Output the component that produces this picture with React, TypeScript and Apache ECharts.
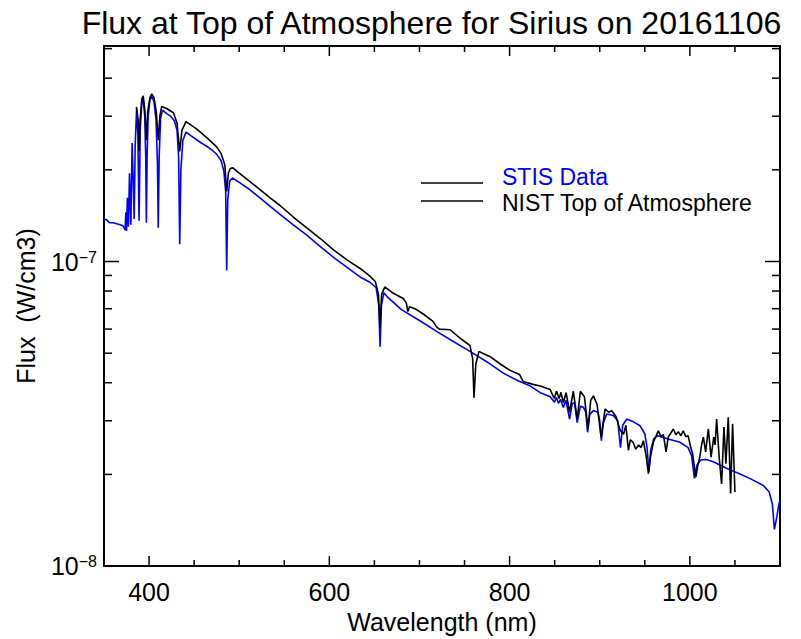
import React, { useEffect, useRef } from "react";
import * as echarts from "echarts";

// STIS measured spectrum (wavelength nm, flux W/cm3)
const stisWl = [
  350, 353, 356, 360, 364, 368, 371, 373.4, 374.2, 375.0, 375.9, 377.1, 378.3, 379.8, 381.2, 382.3, 383.5,
  384.6, 386.2, 387.6, 388.9, 390.2, 392.0, 393.3, 395.2, 396.3, 397.0, 397.8, 399.0, 401.0, 403.0, 405.5,
  407.8, 409.3, 410.2, 411.2, 412.8, 415.0, 419.5, 424.0, 428.0, 431.0, 432.8, 434.0, 435.3, 437.5, 441.0,
  447.0, 452.8, 458.0, 464.0, 470.0, 475.0, 480.0, 483.0, 485.0, 486.1, 487.3, 489.5, 492.5, 500.0, 512.0,
  525.0, 534.0, 545.0, 560.0, 575.0, 590.0, 605.0, 620.0, 634.0, 645.0, 652.0, 654.8, 656.3, 657.8, 660.5,
  664.0, 680.0, 700.0, 719.0, 738.0, 756.0, 775.0, 793.0, 810.0, 823.0, 834.0, 845.0, 849.8, 852.0, 854.3,
  856.5, 859.6, 862.5, 866.5, 869.5, 872.0, 875.0, 878.5, 882.0, 884.5, 886.5, 889.0, 893.0, 898.0, 900.0,
  901.8, 904.0, 907.8, 915.0, 920.0, 923.0, 925.5, 930.0, 938.0, 944.7, 950.0, 952.5, 954.6, 956.5, 960.0,
  964.0, 975.0, 989.0, 998.0, 1002.0, 1005.0, 1008.0, 1012.0, 1018.0, 1026.0, 1040.0, 1055.0, 1068.0,
  1081.5, 1088.0, 1091.5, 1093.8, 1096.5, 1098.5, 1100.0,
];
const stisFlux = [
  1.38e-7, 1.37e-7, 1.34e-7, 1.34e-7, 1.33e-7, 1.32e-7, 1.31e-7, 1.27e-7, 1.45e-7, 1.26e-7, 1.62e-7, 1.3e-7,
  1.95e-7, 1.32e-7, 2.45e-7, 1.9e-7, 1.38e-7, 2.4e-7, 3.18e-7, 2.6e-7, 1.36e-7, 2.7e-7, 3.35e-7, 3.45e-7,
  3.0e-7, 2.2e-7, 1.34e-7, 2.2e-7, 3.0e-7, 3.4e-7, 3.48e-7, 3.35e-7, 2.9e-7, 2.1e-7, 1.29e-7, 2.2e-7, 2.95e-7,
  3.14e-7, 3.06e-7, 3.0e-7, 2.9e-7, 2.7e-7, 2.2e-7, 1.14e-7, 2.0e-7, 2.5e-7, 2.66e-7, 2.58e-7, 2.51e-7,
  2.45e-7, 2.39e-7, 2.32e-7, 2.25e-7, 2.14e-7, 1.98e-7, 1.7e-7, 9.35e-8, 1.6e-7, 1.84e-7, 1.88e-7, 1.82e-7,
  1.72e-7, 1.6e-7, 1.52e-7, 1.43e-7, 1.32e-7, 1.22e-7, 1.12e-7, 1.03e-7, 9.55e-8, 8.9e-8, 8.55e-8, 8.2e-8,
  7.2e-8, 5.25e-8, 7.2e-8, 7.9e-8, 7.67e-8, 6.95e-8, 6.4e-8, 5.9e-8, 5.45e-8, 5.07e-8, 4.68e-8, 4.3e-8,
  4.05e-8, 3.9e-8, 3.71e-8, 3.6e-8, 3.45e-8, 3.58e-8, 3.42e-8, 3.53e-8, 3.32e-8, 3.5e-8, 3.04e-8, 3.42e-8,
  3.44e-8, 2.96e-8, 3.35e-8, 3.32e-8, 3.2e-8, 2.75e-8, 3.15e-8, 3.24e-8, 3.2e-8, 3.0e-8, 2.58e-8, 2.95e-8,
  3.16e-8, 3.12e-8, 3.0e-8, 2.45e-8, 2.9e-8, 3.04e-8, 2.97e-8, 2.89e-8, 2.72e-8, 2.45e-8, 2.04e-8, 2.4e-8,
  2.62e-8, 2.68e-8, 2.62e-8, 2.55e-8, 2.45e-8, 2.3e-8, 1.94e-8, 2.15e-8, 2.23e-8, 2.24e-8, 2.2e-8, 2.1e-8,
  2.01e-8, 1.93e-8, 1.84e-8, 1.75e-8, 1.6e-8, 1.32e-8, 1.45e-8, 1.58e-8, 1.65e-8,
];

// NIST top-of-atmosphere spectrum
const nistWl = [
  386.0, 388.0, 388.9, 390.0, 392.0, 393.5, 395.5, 397.0, 398.5, 401.0, 403.0, 405.5, 408.0, 410.2, 412.0,
  414.0, 419.5, 427.0, 431.0, 434.0, 436.5, 441.0, 453.0, 464.0, 475.0, 480.0, 484.0, 486.1, 488.0, 490.0,
  493.0, 500.0, 512.0, 534.0, 545.0, 560.0, 575.0, 590.0, 605.0, 620.0, 635.0, 645.0, 651.0, 654.5, 656.3,
  658.0, 661.5, 670.0, 682.0, 685.5, 687.0, 689.0, 695.0, 705.0, 715.0, 719.0, 722.0, 734.0, 745.0, 756.0,
  759.0, 760.5, 762.5, 766.0, 770.0, 778.0, 790.0, 800.0, 811.0, 815.0, 826.0, 834.0, 845.0, 849.5, 852.0,
  855.0, 857.0, 859.6, 862.7, 866.5, 870.7, 875.0, 878.5, 883.0, 887.0, 890.0, 893.0, 897.0, 901.5, 906.0,
  910.0, 913.3, 918.0, 922.5, 926.5, 929.0, 931.8, 934.0, 937.0, 940.0, 943.0, 946.0, 948.4, 951.5, 954.0,
  956.5, 959.5, 965.0, 968.0, 970.6, 973.6, 976.0, 981.7, 984.5, 987.2, 990.0, 992.7, 995.5, 998.0, 1001.0,
  1003.0, 1006.6, 1009.0, 1011.0, 1013.0, 1015.0, 1017.5, 1020.5, 1023.5, 1026.5, 1028.0, 1029.7, 1032.5,
  1035.2, 1037.8, 1040.0, 1042.6, 1045.2, 1047.4, 1050.0,
];
const nistFlux = [
  3.22e-7, 2.9e-7, 2.3e-7, 2.9e-7, 3.42e-7, 3.5e-7, 3.1e-7, 2.5e-7, 3.1e-7, 3.45e-7, 3.55e-7, 3.45e-7, 3.1e-7,
  2.5e-7, 3.0e-7, 3.23e-7, 3.18e-7, 3.08e-7, 2.85e-7, 2.3e-7, 2.7e-7, 2.88e-7, 2.72e-7, 2.55e-7, 2.38e-7,
  2.26e-7, 2.08e-7, 1.7e-7, 1.95e-7, 2.02e-7, 2.03e-7, 1.95e-7, 1.83e-7, 1.62e-7, 1.53e-7, 1.4e-7, 1.29e-7,
  1.19e-7, 1.09e-7, 1.01e-7, 9.45e-8, 8.95e-8, 8.6e-8, 7.8e-8, 6.04e-8, 7.8e-8, 8.25e-8, 7.9e-8, 7.56e-8,
  7.3e-8, 6.85e-8, 7.1e-8, 7.0e-8, 6.7e-8, 6.36e-8, 6.1e-8, 6.0e-8, 5.97e-8, 5.6e-8, 5.3e-8, 4.8e-8, 3.57e-8,
  4.6e-8, 5.07e-8, 5.0e-8, 4.88e-8, 4.6e-8, 4.4e-8, 4.26e-8, 4.04e-8, 3.95e-8, 3.9e-8, 3.8e-8, 3.55e-8,
  3.75e-8, 3.55e-8, 3.72e-8, 3.44e-8, 3.71e-8, 3.2e-8, 3.75e-8, 3.04e-8, 3.75e-8, 3.6e-8, 2.82e-8, 3.5e-8,
  3.62e-8, 3.4e-8, 2.65e-8, 3.28e-8, 3.2e-8, 3.24e-8, 3.1e-8, 2.8e-8, 2.71e-8, 2.9e-8, 2.4e-8, 2.6e-8,
  2.55e-8, 2.42e-8, 2.5e-8, 2.45e-8, 2.58e-8, 2.3e-8, 2.01e-8, 2.3e-8, 2.55e-8, 2.78e-8, 2.66e-8, 2.7e-8,
  2.37e-8, 2.65e-8, 2.82e-8, 2.7e-8, 2.76e-8, 2.68e-8, 2.78e-8, 2.66e-8, 2.68e-8, 2.45e-8, 2.34e-8, 1.96e-8,
  2.15e-8, 2.28e-8, 2.5e-8, 2.65e-8, 2.37e-8, 2.82e-8, 2.28e-8, 2.65e-8, 2.5e-8, 3.04e-8, 2.28e-8, 1.86e-8,
  2.86e-8, 2.17e-8, 3.08e-8, 1.73e-8, 2.93e-8, 1.75e-8,
];

const xMajorTicks = [400, 600, 800, 1000];
const xMinorTicks = [450, 500, 550, 650, 700, 750, 850, 900, 950, 1050];
const yMajorTicks = [1e-7];
const yMinorTicks = [2e-8, 3e-8, 4e-8, 5e-8, 6e-8, 7e-8, 8e-8, 9e-8, 2e-7, 3e-7, 4e-7, 5e-7];

const X_MIN = 350;
const X_MAX = 1100;
const Y_MIN = 1e-8;
const Y_MAX = 5.1e-7;

const FONT = '"Liberation Sans", Arial, Helvetica, sans-serif';
const BLUE = "#0000ff";

function tickSeries(values: number[], dir: "x" | "y", len: number) {
  return {
    type: "custom",
    coordinateSystem: "cartesian2d",
    silent: true,
    z: 10,
    data: values.map((v) => (dir === "x" ? [v, Y_MIN] : [X_MIN, v])),
    renderItem: (_params: any, api: any) => {
      const style = { stroke: "#000", lineWidth: 1.5 };
      if (dir === "x") {
        const v = api.value(0);
        const b = api.coord([v, Y_MIN]);
        const t = api.coord([v, Y_MAX]);
        return {
          type: "group",
          children: [
            { type: "line", shape: { x1: b[0], y1: b[1], x2: b[0], y2: b[1] - len }, style },
            { type: "line", shape: { x1: t[0], y1: t[1], x2: t[0], y2: t[1] + len }, style },
          ],
        };
      }
      const v = api.value(1);
      const l = api.coord([X_MIN, v]);
      const r = api.coord([X_MAX, v]);
      return {
        type: "group",
        children: [
          { type: "line", shape: { x1: l[0], y1: l[1], x2: l[0] + len, y2: l[1] }, style },
          { type: "line", shape: { x1: r[0], y1: r[1], x2: r[0] - len, y2: r[1] }, style },
        ],
      };
    },
  };
}

export default function App() {
  const ref = useRef<HTMLDivElement>(null);

  useEffect(() => {
    document.body.style.margin = "0";
    if (!ref.current) return;
    const chart = echarts.init(ref.current, undefined, { renderer: "svg" });
    const option: any = {
      animation: false,
      backgroundColor: "#fff",
      grid: {
        left: 104,
        top: 46,
        width: 676,
        height: 524,
        show: true,
        borderColor: "#000",
        borderWidth: 2,
        backgroundColor: "transparent",
      },
      xAxis: {
        type: "value",
        min: X_MIN,
        max: X_MAX,
        interval: 50,
        axisLine: { show: false },
        axisTick: { show: false },
        splitLine: { show: false },
        axisLabel: {
          color: "#000",
          fontSize: 25,
          fontFamily: FONT,
          margin: 13,
          formatter: (v: number) => (v % 200 === 0 ? String(v) : ""),
        },
        name: "Wavelength (nm)",
        nameLocation: "middle",
        nameGap: 38,
        nameTextStyle: { color: "#000", fontSize: 25, fontFamily: FONT },
      },
      yAxis: {
        type: "log",
        logBase: 10,
        min: Y_MIN,
        max: Y_MAX,
        axisLine: { show: false },
        axisTick: { show: false },
        splitLine: { show: false },
        minorTick: { show: false },
        axisLabel: {
          color: "#000",
          fontSize: 25,
          fontFamily: FONT,
          margin: 7,
          formatter: (v: number) => {
            const e = Math.round(Math.log10(v));
            if (Math.abs(v - Math.pow(10, e)) / v > 1e-6) return "";
            return "10{sup|\u2212" + Math.abs(e) + "}";
          },
          rich: {
            sup: { fontSize: 16, fontFamily: FONT, color: "#000", verticalAlign: "top" },
          },
        },
        name: "Flux  (W/cm3)",
        nameLocation: "middle",
        nameGap: 66,
        nameTextStyle: { color: "#000", fontSize: 25, fontFamily: FONT },
      },
      graphic: [
        {
          type: "text",
          x: 431.5,
          y: 23,
          style: {
            text: "Flux at Top of Atmosphere for Sirius on 20161106",
            fill: "#000",
            fontSize: 32,
            fontFamily: FONT,
            textAlign: "center",
            textVerticalAlign: "middle",
          },
        },
        { type: "line", shape: { x1: 421, y1: 183, x2: 483, y2: 183 }, style: { stroke: "#000", lineWidth: 1.5 } },
        { type: "line", shape: { x1: 421, y1: 201, x2: 483, y2: 201 }, style: { stroke: "#000", lineWidth: 1.5 } },
        {
          type: "text",
          x: 502,
          y: 176.5,
          z: 100,
          style: {
            text: "STIS Data",
            fill: BLUE,
            fontSize: 23,
            lineHeight: 23,
            fontFamily: FONT,
            textVerticalAlign: "middle",
          },
        },
        {
          type: "text",
          x: 502,
          y: 202.5,
          z: 100,
          style: {
            text: "NIST Top of Atmosphere",
            fill: "#000",
            fontSize: 23,
            lineHeight: 23,
            fontFamily: FONT,
            textVerticalAlign: "middle",
          },
        },
      ],
      series: [
        {
          name: "STIS Data",
          type: "line",
          data: stisWl.map((w, i) => [w, stisFlux[i]]),
          showSymbol: false,
          symbol: "none",
          lineStyle: { color: BLUE, width: 1.6 },
          itemStyle: { color: BLUE },
          z: 3,
        },
        {
          name: "NIST Top of Atmosphere",
          type: "line",
          data: nistWl.map((w, i) => [w, nistFlux[i]]),
          showSymbol: false,
          symbol: "none",
          lineStyle: { color: "#000", width: 1.6 },
          itemStyle: { color: "#000" },
          z: 4,
        },
        tickSeries(xMajorTicks, "x", 10),
        tickSeries(xMinorTicks, "x", 6),
        tickSeries(yMajorTicks, "y", 15),
        tickSeries(yMinorTicks, "y", 8),
      ],
    };
    chart.setOption(option);
    return () => chart.dispose();
  }, []);

  return <div ref={ref} style={{ width: 801, height: 639, position: "absolute", left: 0, top: 0 }} />;
}
